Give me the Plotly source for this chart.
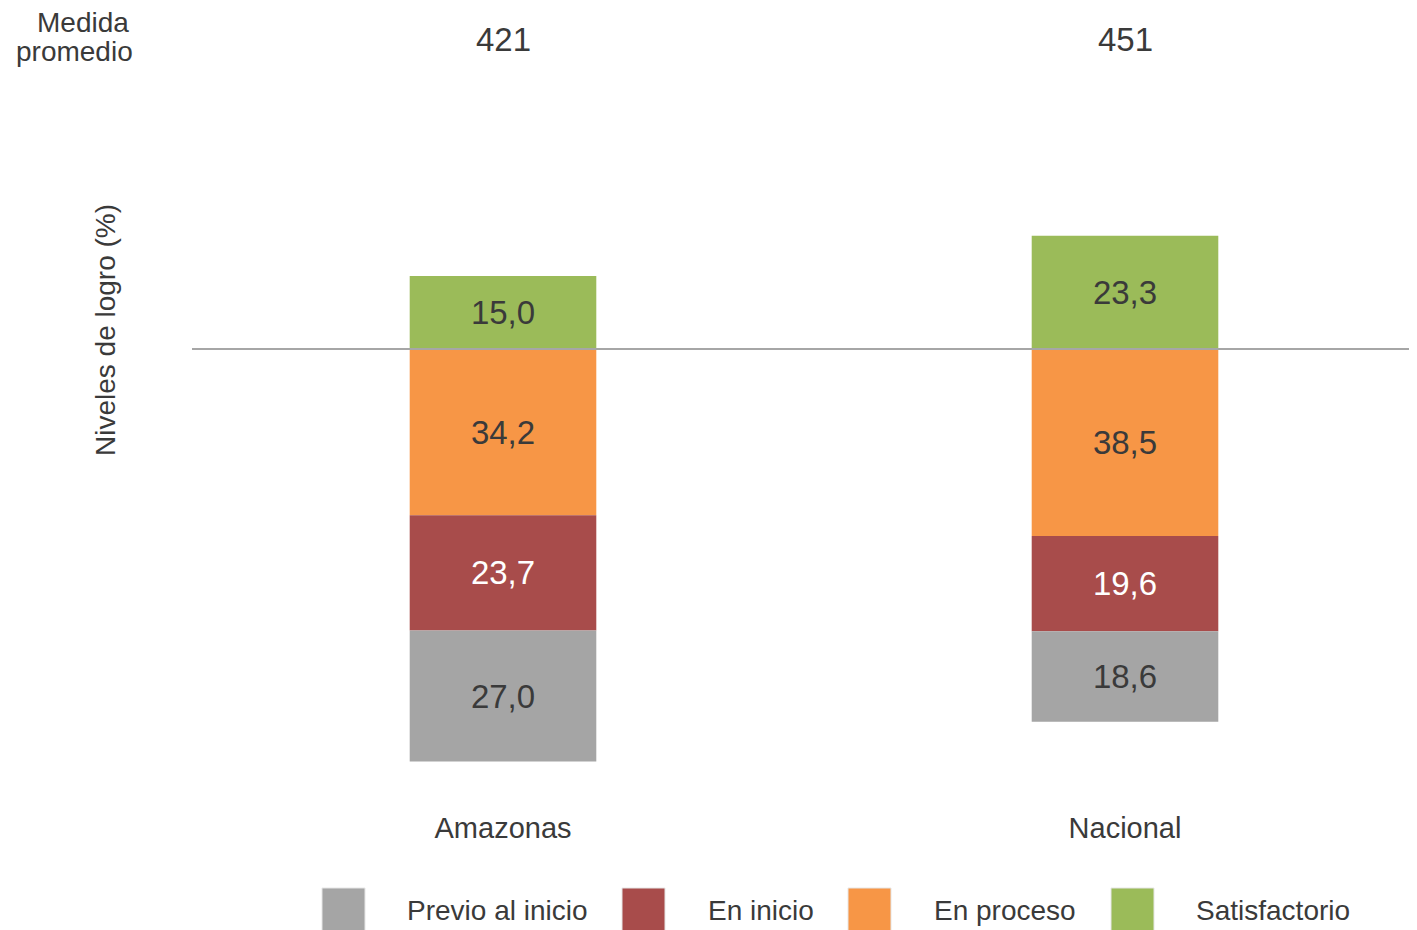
import plotly.graph_objects as go

# ---- data ----
categories = ["Amazonas", "Nacional"]
medida_promedio = [421, 451]
previo_inicio = [27.0, 18.6]
en_inicio = [23.7, 19.6]
en_proceso = [34.2, 38.5]
satisfactorio = [15.0, 23.3]
series_names = ["Previo al inicio", "En inicio", "En proceso", "Satisfactorio"]

# ---- style ----
COLORS = {
    "Previo al inicio": "#A5A5A5",
    "En inicio": "#A84C4B",
    "En proceso": "#F79646",
    "Satisfactorio": "#9BBB59",
}
TEXT_COLORS = {
    "Previo al inicio": "#3A3A3A",
    "En inicio": "#FFFFFF",
    "En proceso": "#3A3A3A",
    "Satisfactorio": "#3A3A3A",
}
FONT = "Liberation Sans, Arial, sans-serif"
W, H = 1417, 930
OFF = 8  # page body margin offset

# target pixel positions (as seen on the page)
PLOT_LEFT, PLOT_TOP, PLOT_BOTTOM = 192, 110, 808
L = PLOT_LEFT - OFF
T = PLOT_TOP - OFF
B = H - (PLOT_BOTTOM - OFF)
R = 0
PW, PH = W - L - R, H - T - B


def px_x(px):
    return (px - OFF - L) / PW


def px_y(py):
    return (H - B - (py - OFF)) / PH


def fmt(v):
    return f"{v:.1f}".replace(".", ",")


fig = go.Figure()

values = {
    "Previo al inicio": previo_inicio,
    "En inicio": en_inicio,
    "En proceso": en_proceso,
    "Satisfactorio": satisfactorio,
}

# negatives stacked from zero outward, then the positive series
for name in ["En proceso", "En inicio", "Previo al inicio", "Satisfactorio"]:
    vals = values[name]
    sign = 1 if name == "Satisfactorio" else -1
    fig.add_trace(go.Bar(
        x=categories,
        y=[sign * v for v in vals],
        name=name,
        width=0.30,
        marker=dict(color=COLORS[name], line=dict(width=0)),
        text=[fmt(v) for v in vals],
        textposition="inside",
        insidetextanchor="middle",
        textangle=0,
        textfont=dict(size=33, color=TEXT_COLORS[name], family=FONT),
        showlegend=False,
        hoverinfo="skip",
    ))

# scale: ~4.86 px per percentage point, zero at page pixel 349
ppu = 4.86
zero_px = 349
y_top = (zero_px - PLOT_TOP) / ppu
y_bot = -(PLOT_BOTTOM - zero_px) / ppu

fig.update_layout(
    width=W, height=H,
    margin=dict(l=L, r=R, t=T, b=B, pad=0),
    barmode="relative",
    plot_bgcolor="white",
    paper_bgcolor="white",
    font=dict(family=FONT, color="#3A3A3A"),
    xaxis=dict(
        type="category",
        range=[-0.5, -0.5 + PW / 622],
        showgrid=False, zeroline=False, showline=False,
        ticks="",
        tickfont=dict(size=29, color="#3A3A3A", family=FONT),
    ),
    yaxis=dict(
        range=[y_bot, y_top],
        showgrid=False, zeroline=False, showline=False,
        showticklabels=False, ticks="",
    ),
)

# baseline
fig.add_shape(type="line", xref="paper", yref="y", x0=0, x1=1, y0=0, y1=0,
              line=dict(color="#A6A6A6", width=2), layer="above")

# medida promedio
for cat, m in zip(categories, medida_promedio):
    fig.add_annotation(x=cat, xref="x", y=px_y(40), yref="paper",
                       text=str(m), showarrow=False,
                       font=dict(size=33, color="#3A3A3A", family=FONT),
                       xanchor="center", yanchor="middle")

fig.add_annotation(x=px_x(83), xref="paper", y=px_y(22), yref="paper",
                   text="Medida", showarrow=False,
                   font=dict(size=28, color="#3A3A3A", family=FONT),
                   xanchor="center", yanchor="middle")
fig.add_annotation(x=px_x(74), xref="paper", y=px_y(52), yref="paper",
                   text="promedio", showarrow=False,
                   font=dict(size=28, color="#3A3A3A", family=FONT),
                   xanchor="center", yanchor="middle")

# y title
fig.add_annotation(x=px_x(105), xref="paper", y=px_y(330), yref="paper",
                   text="Niveles de logro (%)", showarrow=False, textangle=-90,
                   font=dict(size=28, color="#3A3A3A", family=FONT),
                   xanchor="center", yanchor="middle")

# manual legend
sq_left = [322, 622, 848, 1111]
txt_left = [405, 706, 932, 1194]
for name, sx, tx in zip(series_names, sq_left, txt_left):
    fig.add_shape(type="rect", xref="paper", yref="paper",
                  x0=px_x(sx), x1=px_x(sx + 43), y0=px_y(888), y1=px_y(931),
                  fillcolor=COLORS[name], line=dict(width=1, color="#E6E6E6"))
    fig.add_annotation(x=px_x(tx), xref="paper", y=px_y(910), yref="paper",
                       text=name, showarrow=False,
                       font=dict(size=28, color="#3A3A3A", family=FONT),
                       xanchor="left", yanchor="middle")

fig.write_html("out.html")
